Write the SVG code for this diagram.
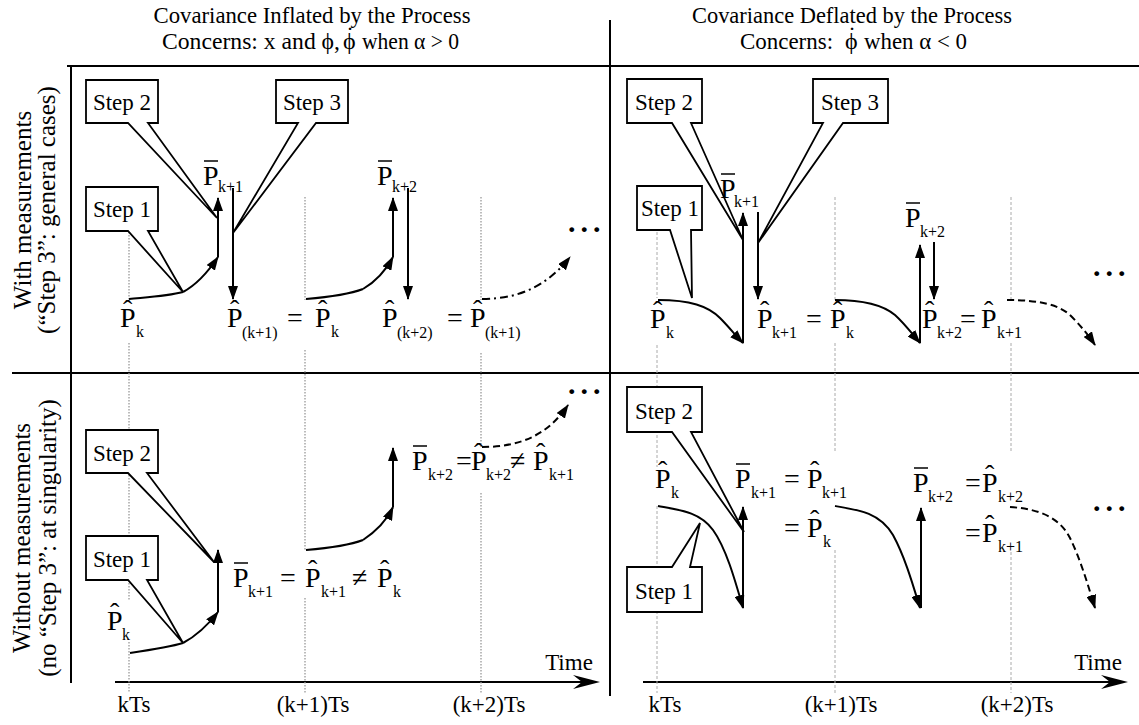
<svg xmlns="http://www.w3.org/2000/svg" width="1139" height="725" viewBox="0 0 1139 725" font-family="'Liberation Serif', 'Times New Roman', serif">
<style>
text{font-family:"Liberation Serif","Times New Roman",serif;fill:#000}
.hd{font-size:24px}
.st{font-size:23px;text-anchor:middle}
.P{font-size:28px}
.hat{font-size:28px}
.sb{font-size:16px}
.eq{font-size:28px}
.rl{font-size:25px;text-anchor:middle}
.tk{font-size:23px;text-anchor:middle}
.dots{font-size:30px;font-weight:bold;letter-spacing:5px}
.fr{stroke:#000;stroke-width:2;fill:none}
.dl{stroke:#999;stroke-width:1.3;stroke-dasharray:1.5 1.5;fill:none}
.dr{stroke:#aaa;stroke-width:1;stroke-dasharray:3 2;fill:none}
.cv{stroke:#000;stroke-width:2;fill:none}
.ar{marker-end:url(#ah)}
.da{stroke-dasharray:7 4}
.dd{stroke-dasharray:8 4 2 4}
.co{fill:#fff;stroke:#000;stroke-width:1.8}
.bar{stroke:#000;stroke-width:1.5}
</style>
<defs>
<marker id="ah" viewBox="0 0 14 10" refX="13" refY="5" markerWidth="14" markerHeight="10" markerUnits="userSpaceOnUse" orient="auto"><path d="M0,0 L14,5 L0,10 z" fill="#000"/></marker>
</defs>

<g id="frame">
<line class="fr" x1="67" y1="66" x2="1139" y2="66"/>
<line class="fr" x1="12" y1="373" x2="1139" y2="373"/>
<line class="fr" x1="71" y1="66" x2="71" y2="683"/>
<line class="fr" x1="610" y1="20" x2="610" y2="696"/>
<line class="fr" x1="115" y1="682" x2="590" y2="682"/>
<path d="M600,682 L573,675 L582,682 L573,689 Z" fill="#000"/>
<line class="fr" x1="643" y1="682" x2="1118" y2="682"/>
<path d="M1128,682 L1101,675 L1110,682 L1101,689 Z" fill="#000"/>
</g>

<g id="gridlines">
<path class="dl" d="M129,232V300M129,343V600M129,642V693M305,197V300M305,350V550M305,598V693M481,197V300M481,353V447M481,493V693"/>
<path class="dr" d="M657,232V298M657,345V467M657,506V693M835,197V300M835,343V452M835,550V693M1011,197V300M1011,343V452M1011,552V693"/>
</g>

<g id="headers">
<text class="hd" x="312" y="23" text-anchor="middle" textLength="317" lengthAdjust="spacingAndGlyphs">Covariance Inflated by the Process</text>
<text class="hd" x="162" y="49" textLength="178" lengthAdjust="spacingAndGlyphs">Concerns: x and ϕ,</text>
<text class="hd" x="343" y="49">ϕ</text>
<text class="hd" x="350" y="43" text-anchor="middle">˙</text>
<text class="hd" x="362" y="49" textLength="97" lengthAdjust="spacingAndGlyphs">when α &gt; 0</text>
<text class="hd" x="852" y="23" text-anchor="middle" textLength="320" lengthAdjust="spacingAndGlyphs">Covariance Deflated by the Process</text>
<text class="hd" x="740" y="49" textLength="93" lengthAdjust="spacingAndGlyphs">Concerns:</text>
<text class="hd" x="845" y="49">ϕ</text>
<text class="hd" x="852" y="43" text-anchor="middle">˙</text>
<text class="hd" x="864" y="49" textLength="103" lengthAdjust="spacingAndGlyphs">when α &lt; 0</text>
</g>

<g id="rowlabels">
<text class="rl" transform="translate(31,210) rotate(-90)">With measurements</text>
<text class="rl" transform="translate(55,210) rotate(-90)">(“Step 3”: general cases)</text>
<text class="rl" transform="translate(30,538) rotate(-90)">Without measurements</text>
<text class="rl" transform="translate(56,538) rotate(-90)">(no “Step 3”: at singularity)</text>
</g>

<g id="connectors">
<path class="cv" d="M129,299 C150,297 168,296 183,292"/>
<path class="cv ar" d="M183,292 C196,285 208,272 218,257"/>
<path class="cv ar" d="M218,257 V198"/>
<path class="cv ar" d="M233,188 V299"/>
<path class="cv" d="M306,299 C330,297 350,294 363,289"/>
<path class="cv ar" d="M363,289 C375,282 385,272 393,257"/>
<path class="cv ar" d="M393,257 V198"/>
<path class="cv ar" d="M408,188 V299"/>
<path class="cv dd ar" d="M482,299 C520,299 548,285 570,257"/>
<path class="cv ar" d="M658,300 C690,300 708,306 720,318 C729,327 736,336 743,343"/>
<path class="cv ar" d="M743,343 V213"/>
<path class="cv ar" d="M758,212 V299"/>
<path class="cv ar" d="M835,300 C862,300 883,305 895,315 C905,324 913,335 920,343"/>
<path class="cv ar" d="M920,343 V245"/>
<path class="cv ar" d="M934,242 V299"/>
<path class="cv da ar" d="M1007,300 C1040,300 1060,305 1071,316 C1081,326 1089,336 1095,345"/>
<path class="cv" d="M130,653 C150,650 170,647 183,643"/>
<path class="cv ar" d="M183,643 C196,636 208,625 218,612"/>
<path class="cv ar" d="M218,612 V550"/>
<path class="cv" d="M306,550 C330,548 350,545 363,540"/>
<path class="cv ar" d="M363,540 C375,532 386,522 393,507"/>
<path class="cv ar" d="M393,507 V448"/>
<path class="cv da ar" d="M482,447 C520,447 548,435 568,405"/>
<path class="cv ar" d="M658,506 C680,510 700,512 713,530 C726,548 735,580 743,608"/>
<path class="cv ar" d="M743,608 V507"/>
<path class="cv ar" d="M835,506 C860,510 880,513 893,535 C905,557 913,585 920,608"/>
<path class="cv ar" d="M921,608 V508"/>
<path class="cv da ar" d="M1010,507 C1040,509 1060,518 1070,538 C1080,558 1088,585 1095,608"/>
</g>

<g id="tl-step2"><path class="co" d="M86,80 H158 V123 H148 L217,218 L128,123 H86 Z"/><text class="st" x="122" y="110">Step 2</text></g>
<g id="tl-step1"><path class="co" d="M86,187 H158 V231 H148 L183,292 L128,231 H86 Z"/><text class="st" x="122" y="217">Step 1</text></g>
<g id="tl-step3"><path class="co" d="M276,80 H348 V123 H316 L233,233 L298,123 H276 Z"/><text class="st" x="312" y="110">Step 3</text></g>
<g id="tr-step2"><path class="co" d="M627,79 H702 V123 H691 L743,240 L672,123 H627 Z"/><text class="st" x="664" y="110">Step 2</text></g>
<g id="tr-step1"><path class="co" d="M637,186 H702 V230 H691 L692,298 L670,230 H637 Z"/><text class="st" x="670" y="216">Step 1</text></g>
<g id="tr-step3"><path class="co" d="M813,79 H888 V123 H843 L758,243 L823,123 H813 Z"/><text class="st" x="850" y="110">Step 3</text></g>
<g id="bl-step2"><path class="co" d="M86,430 H158 V473 H147 L214,562 L128,473 H86 Z"/><text class="st" x="122" y="461">Step 2</text></g>
<g id="bl-step1"><path class="co" d="M86,536 H158 V580 H147 L183,643 L128,580 H86 Z"/><text class="st" x="122" y="567">Step 1</text></g>
<g id="br-step2"><path class="co" d="M627,387 H702 V432 H691 L744,532 L672,432 H627 Z"/><text class="st" x="664" y="419">Step 2</text></g>
<g id="br-step1"><path class="co" d="M627,567 H672 L700,523 L690,567 H702 V612 H627 Z"/><text class="st" x="664" y="599">Step 1</text></g>

<g id="tl-labels">
<text class="P" x="120" y="327">P</text><text class="hat" x="123" y="319">ˆ</text><text class="sb" x="136" y="337">k</text>
<text class="P" x="203" y="185">P</text><line class="bar" x1="204" y1="161" x2="218" y2="161"/><text class="sb" x="218" y="192">k+1</text>
<text class="P" x="227" y="327">P</text><text class="hat" x="230" y="319">ˆ</text><text class="sb" x="242" y="338">(k+1)</text>
<text class="eq" x="287" y="327">=</text>
<text class="P" x="315" y="327">P</text><text class="hat" x="318" y="319">ˆ</text><text class="sb" x="331" y="337">k</text>
<text class="P" x="377" y="185">P</text><line class="bar" x1="378" y1="161" x2="392" y2="161"/><text class="sb" x="392" y="192">k+2</text>
<text class="P" x="382" y="327">P</text><text class="hat" x="385" y="319">ˆ</text><text class="sb" x="397" y="338">(k+2)</text>
<text class="eq" x="447" y="327">=</text>
<text class="P" x="470" y="327">P</text><text class="hat" x="473" y="319">ˆ</text><text class="sb" x="485" y="338">(k+1)</text>
<text class="dots" x="568" y="232">...</text>
</g>

<g id="tr-labels">
<text class="P" x="650" y="328">P</text><text class="hat" x="653" y="320">ˆ</text><text class="sb" x="666" y="338">k</text>
<text class="P" x="720" y="198">P</text><line class="bar" x1="721" y1="174" x2="735" y2="174"/><text class="sb" x="734" y="207">k+1</text>
<text class="P" x="757" y="328">P</text><text class="hat" x="760" y="320">ˆ</text><text class="sb" x="772" y="338">k+1</text>
<text class="eq" x="806" y="328">=</text>
<text class="P" x="830" y="328">P</text><text class="hat" x="833" y="320">ˆ</text><text class="sb" x="846" y="338">k</text>
<text class="P" x="905" y="227">P</text><line class="bar" x1="906" y1="203" x2="920" y2="203"/><text class="sb" x="920" y="237">k+2</text>
<text class="P" x="922" y="328">P</text><text class="hat" x="925" y="320">ˆ</text><text class="sb" x="937" y="338">k+2</text>
<text class="eq" x="960" y="328">=</text>
<text class="P" x="981" y="328">P</text><text class="hat" x="984" y="320">ˆ</text><text class="sb" x="997" y="338">k+1</text>
<text class="dots" x="1093" y="276">...</text>
</g>

<g id="bl-labels">
<text class="P" x="107" y="630">P</text><text class="hat" x="110" y="622">ˆ</text><text class="sb" x="122" y="640">k</text>
<text class="P" x="233" y="587">P</text><line class="bar" x1="234" y1="563" x2="248" y2="563"/><text class="sb" x="248" y="597">k+1</text>
<text class="eq" x="280" y="587">=</text>
<text class="P" x="305" y="587">P</text><text class="hat" x="308" y="579">ˆ</text><text class="sb" x="321" y="597">k+1</text>
<text class="eq" x="352" y="587">≠</text>
<text class="P" x="377" y="587">P</text><text class="hat" x="380" y="579">ˆ</text><text class="sb" x="393" y="597">k</text>
<text class="P" x="412" y="470">P</text><line class="bar" x1="413" y1="446" x2="427" y2="446"/><text class="sb" x="428" y="480">k+2</text>
<text class="eq" x="456" y="470">=</text>
<text class="P" x="471" y="470">P</text><text class="hat" x="474" y="462">ˆ</text><text class="sb" x="486" y="480">k+2</text>
<text class="eq" x="510" y="470">≠</text>
<text class="P" x="533" y="470">P</text><text class="hat" x="536" y="462">ˆ</text><text class="sb" x="549" y="480">k+1</text>
<text class="dots" x="568" y="394">...</text>
</g>

<g id="br-labels">
<text class="P" x="655" y="488">P</text><text class="hat" x="658" y="480">ˆ</text><text class="sb" x="671" y="498">k</text>
<text class="P" x="735" y="488">P</text><line class="bar" x1="736" y1="464" x2="750" y2="464"/><text class="sb" x="751" y="498">k+1</text>
<text class="eq" x="784" y="488">=</text>
<text class="P" x="807" y="488">P</text><text class="hat" x="810" y="480">ˆ</text><text class="sb" x="822" y="498">k+1</text>
<text class="eq" x="784" y="537">=</text>
<text class="P" x="807" y="537">P</text><text class="hat" x="810" y="529">ˆ</text><text class="sb" x="823" y="547">k</text>
<text class="P" x="913" y="492">P</text><line class="bar" x1="914" y1="468" x2="928" y2="468"/><text class="sb" x="928" y="502">k+2</text>
<text class="eq" x="965" y="492">=</text>
<text class="P" x="982" y="492">P</text><text class="hat" x="985" y="484">ˆ</text><text class="sb" x="998" y="502">k+2</text>
<text class="eq" x="965" y="542">=</text>
<text class="P" x="982" y="542">P</text><text class="hat" x="985" y="534">ˆ</text><text class="sb" x="998" y="552">k+1</text>
<text class="dots" x="1093" y="511">...</text>
</g>

<g id="axis-labels">
<text class="tk" x="569" y="670">Time</text>
<text class="tk" x="1098" y="670">Time</text>
<text class="tk" x="134" y="712">kTs</text>
<text class="tk" x="313" y="712">(k+1)Ts</text>
<text class="tk" x="489" y="712">(k+2)Ts</text>
<text class="tk" x="665" y="712">kTs</text>
<text class="tk" x="841" y="712">(k+1)Ts</text>
<text class="tk" x="1017" y="712">(k+2)Ts</text>
</g>
</svg>
